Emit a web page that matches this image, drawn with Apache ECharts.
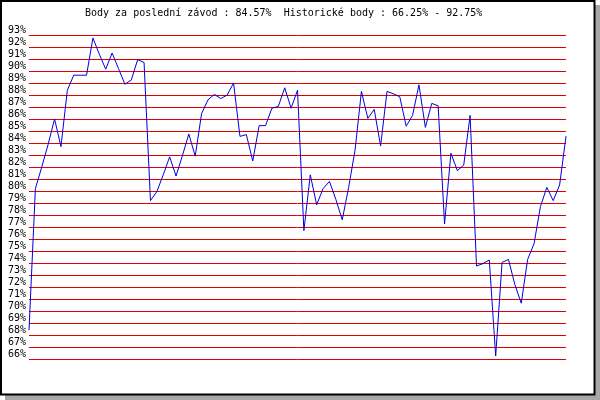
<!DOCTYPE html>
<html>
<head>
<meta charset="utf-8">
<script src="https://cdn.jsdelivr.net/npm/echarts@6/dist/echarts.min.js"></script>
<style>
  html, body { margin: 0; padding: 0; background: #fff; }
  #chart { width: 600px; height: 400px; }
</style>
</head>
<body>
<div id="chart"></div>
<script>
// body za jednotlive zavody (v %)
var points = [
    68.4, 80.2, 82.0, 83.9, 86.0, 83.7, 88.4, 89.65, 89.65, 89.65,
    92.75, 91.4, 90.15, 91.5, 90.2, 88.9, 89.25, 90.95, 90.7, 79.2,
    79.95, 81.35, 82.85, 81.25, 82.95, 84.75, 82.9, 86.45, 87.6, 88.05,
    87.7, 88.0, 89.0, 84.55, 84.7, 82.5, 85.45, 85.45, 86.9, 87.05,
    88.6, 86.9, 88.4, 76.7, 81.35, 78.85, 80.2, 80.8, 79.3, 77.6,
    80.3, 83.4, 88.3, 86.05, 86.8, 83.75, 88.3, 88.1, 87.85, 85.4,
    86.3, 88.85, 85.3, 87.3, 87.1, 77.25, 83.15, 81.7, 82.15, 86.3,
    73.75, 73.95, 74.25, 66.25, 74.05, 74.3, 72.2, 70.65, 74.3, 75.6,
    78.7, 80.3, 79.2, 80.5, 84.57
];
var races = points.map(function (v, i) { return String(i + 1); });
var lastScore = 84.57;
var histMin = 66.25;
var histMax = 92.75;
var yMin = 66, yMax = 93, yStep = 1;

var mono = '"DejaVu Sans Mono", "Liberation Mono", monospace';

var myChart = echarts.init(document.getElementById('chart'), null, { renderer: 'canvas' });

var option = {
    animation: false,
    backgroundColor: '#fff',
    graphic: [
        {   // stin
            type: 'rect', z: -10, silent: true,
            shape: { x: 5, y: 5, width: 595, height: 395 },
            style: { fill: '#a8a8a8' }
        },
        {   // ramecek
            type: 'rect', z: -9, silent: true,
            shape: { x: 1, y: 1, width: 593.5, height: 393.5 },
            style: { fill: '#fff', stroke: '#000', lineWidth: 2 }
        }
    ],
    title: {
        text: 'Body za poslední závod : ' + lastScore.toFixed(2) + '%  Historické body : ' +
              histMin.toFixed(2) + '% - ' + histMax.toFixed(2) + '%',
        left: 80,
        top: 3,
        textStyle: { fontFamily: mono, fontSize: 10, fontWeight: 'normal', color: '#000' }
    },
    grid: { left: 29, top: 35, width: 537, height: 324, containLabel: false },
    xAxis: {
        type: 'category',
        data: races,
        boundaryGap: false,
        show: false
    },
    yAxis: {
        type: 'value',
        min: yMin,
        max: yMax,
        interval: yStep,
        axisLine: { show: false },
        axisTick: { show: false },
        axisLabel: {
            formatter: '{value}%',
            fontFamily: mono,
            fontSize: 10,
            color: '#000',
            margin: 3,
            verticalAlign: 'bottom'
        },
        splitLine: { lineStyle: { color: '#e00000', width: 1 } }
    },
    series: [{
        type: 'line',
        data: points,
        showSymbol: false,
        smooth: false,
        lineStyle: { color: '#0000dd', width: 1 },
        itemStyle: { color: '#0000dd' }
    }]
};

myChart.setOption(option);
</script>
</body>
</html>
